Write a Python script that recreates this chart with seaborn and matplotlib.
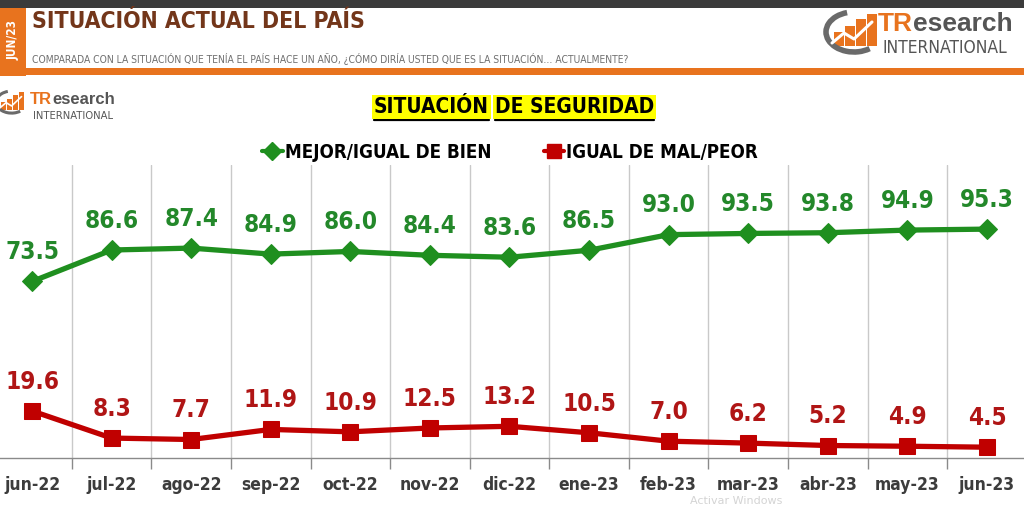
import matplotlib
matplotlib.use("Agg")
import matplotlib.pyplot as plt
import matplotlib.patches as mpatches
from matplotlib.lines import Line2D
from matplotlib import font_manager
import seaborn as sns
import pandas as pd

# Data
months = ['jun-22', 'jul-22', 'ago-22', 'sep-22', 'oct-22', 'nov-22', 'dic-22',
          'ene-23', 'feb-23', 'mar-23', 'abr-23', 'may-23', 'jun-23']
mejor = [73.5, 86.6, 87.4, 84.9, 86.0, 84.4, 83.6, 86.5, 93.0, 93.5, 93.8, 94.9, 95.3]
peor = [19.6, 8.3, 7.7, 11.9, 10.9, 12.5, 13.2, 10.5, 7.0, 6.2, 5.2, 4.9, 4.5]
series_names = ['MEJOR/IGUAL DE BIEN', 'IGUAL DE MAL/PEOR']

title = 'SITUACIÓN ACTUAL DEL PAÍS'
subtitle = ('COMPARADA CON LA SITUACIÓN QUE TENÍA EL PAÍS HACE UN AÑO, '
            '¿CÓMO DIRÍA USTED QUE ES LA SITUACIÓN… ACTUALMENTE?')
chart_title = ['SITUACIÓN', 'DE SEGURIDAD']

GREEN = '#1f8f1f'
GREEN_TXT = '#23882a'
RED = '#c00000'
RED_TXT = '#b01515'
ORANGE = '#e8731e'
BROWN = '#73361a'
GRAY_TXT = '#3c3c3c'

sns.set_theme(style='white')
installed = {f.name for f in font_manager.fontManager.ttflist}
if 'Liberation Sans Narrow' in installed:
    NARROW = dict(family=['Liberation Sans Narrow', 'DejaVu Sans'])
else:
    NARROW = dict(family=['DejaVu Sans'], stretch='condensed')
plt.rcParams['font.family'] = NARROW['family']

W, H = 1024, 507


def fx(px):
    return px / W


def fy(py):
    return 1 - py / H


fig = plt.figure(figsize=(10.24, 5.07), dpi=100)
fig.patch.set_facecolor('white')


def rect(x, y, w, h, color):
    # x, y = top-left corner in pixels
    fig.add_artist(mpatches.Rectangle((fx(x), fy(y + h)), w / W, h / H,
                                      transform=fig.transFigure, color=color, lw=0))


# ---- header ----
rect(0, 0, W, 8, '#3b3b3b')
rect(0, 8, 26, 68, ORANGE)
rect(26, 68, W, 7, ORANGE)
fig.text(fx(13), fy(40), 'JUN/23', rotation=90, color='white', ha='center', va='center',
         fontsize=8.5, fontweight='bold', **NARROW)
fig.text(fx(32), fy(21), title, color=BROWN, ha='left', va='center',
         fontsize=16.5, fontweight='bold', **NARROW)
fig.text(fx(32), fy(59), subtitle, color='#707070', ha='left', va='center',
         fontsize=7.4, **NARROW)


def draw_icon(x0, y0, s):
    # orange rising bars, white zigzag and a grey crescent
    for bx, top in [(12, 22), (23, 16), (34, 9), (45, 4)]:
        rect(x0 + bx * s, y0 + top * s, 10 * s, (36 - top) * s, ORANGE)
    zx = [10, 22, 32, 50]
    zy = [33, 23, 29, 12]
    fig.add_artist(Line2D([fx(x0 + a * s) for a in zx], [fy(y0 + b * s) for b in zy],
                          transform=fig.transFigure, color='white', lw=2.2 * s))
    fig.add_artist(mpatches.Arc((fx(x0 + 32 * s), fy(y0 + 22 * s)), 56 * s / W, 40 * s / H,
                                theta1=100, theta2=295, transform=fig.transFigure,
                                color='#6a6a6a', lw=4 * s))


def draw_logo_text(split_x, y_top, x_int, y_int, big, small):
    fig.text(fx(split_x), fy(y_top), 'TR', color=ORANGE, ha='right', va='center',
             fontsize=big, fontweight='bold', family=['Liberation Sans', 'DejaVu Sans'])
    fig.text(fx(split_x), fy(y_top), 'esearch', color='#555555', ha='left', va='center',
             fontsize=big, fontweight='bold', family=['Liberation Sans', 'DejaVu Sans'])
    fig.text(fx(x_int), fy(y_int), 'INTERNATIONAL', color='#555555', ha='left',
             va='center', fontsize=small, **NARROW)


draw_icon(822, 10, 1.0)
draw_logo_text(913, 24, 882, 48, 19, 12.5)
draw_icon(-6, 90, 0.55)
draw_logo_text(52, 100, 33, 116, 12, 8)

# ---- chart title ----
ty = fy(107)
t1 = fig.text(fx(489), ty, chart_title[0], ha='right', va='center', fontsize=15,
              fontweight='bold', color='black',
              bbox=dict(boxstyle='square,pad=0.1', fc='#ffff00', ec='none'), **NARROW)
t2 = fig.text(fx(495), ty, chart_title[1], ha='left', va='center', fontsize=15,
              fontweight='bold', color='black',
              bbox=dict(boxstyle='square,pad=0.1', fc='#ffff00', ec='none'), **NARROW)
fig.canvas.draw()
renderer = fig.canvas.get_renderer()
for t in (t1, t2):
    bb = t.get_window_extent(renderer).transformed(fig.transFigure.inverted())
    fig.add_artist(Line2D([bb.x0, bb.x1], [bb.y0 - 0.005, bb.y0 - 0.005],
                          transform=fig.transFigure, color='black', lw=1.6))

# ---- plot ----
ax = fig.add_axes([0, fy(458), 1, (458 - 165) / H])
df = pd.DataFrame({
    'idx': list(range(len(months))) * 2,
    'value': mejor + peor,
    'serie': [series_names[0]] * len(months) + [series_names[1]] * len(months),
})
styles = {series_names[0]: (GREEN, 'D', 10.5), series_names[1]: (RED, 's', 11.5)}
for name, (col, mk, ms) in styles.items():
    sub = df[df['serie'] == name]
    sns.lineplot(data=sub, x='idx', y='value', ax=ax, color=col, marker=mk,
                 markersize=ms, markeredgecolor=col, linewidth=3.8, legend=False)

for i in range(len(months)):
    ax.annotate(f'{mejor[i]:.1f}', (i, mejor[i]), xytext=(0, 21), textcoords='offset points',
                ha='center', va='center', fontsize=17.5, fontweight='bold', color=GREEN_TXT,
                **NARROW)
    ax.annotate(f'{peor[i]:.1f}', (i, peor[i]), xytext=(0, 21), textcoords='offset points',
                ha='center', va='center', fontsize=17.5, fontweight='bold', color=RED_TXT,
                **NARROW)

ax.set_xlim(-32 / 79.58, 12 + 37 / 79.58)
ax.set_ylim(0, 122)
ax.set_xlabel('')
ax.set_ylabel('')
ax.set_yticks([])
ax.set_xticks([i + 0.5 for i in range(len(months) - 1)])
ax.set_xticklabels([])
ax.set_xticks(range(len(months)), minor=True)
ax.set_xticklabels(months, minor=True, fontsize=12.5, fontweight='bold', color=GRAY_TXT,
                   **NARROW)
ax.tick_params(axis='x', which='major', length=8, width=1, color='#8a8a8a', direction='out',
               bottom=True)
ax.tick_params(axis='x', which='minor', length=0, pad=13)
ax.grid(axis='x', which='major', color='#c9c9c9', linewidth=1)
ax.grid(axis='y', visible=False)
for s in ['top', 'left', 'right']:
    ax.spines[s].set_visible(False)
ax.spines['bottom'].set_color('#8a8a8a')
ax.spines['bottom'].set_linewidth(1)
ax.set_facecolor('none')

# ---- legend ----
handles = [Line2D([0], [0], color=GREEN, marker='D', markersize=9, lw=3),
           Line2D([0], [0], color=RED, marker='s', markersize=10, lw=3)]
leg = fig.legend(handles, series_names, loc='center', bbox_to_anchor=(fx(510), fy(152)),
                 ncol=2, frameon=False, handlelength=1.1, handletextpad=0.1,
                 columnspacing=2.8, prop=dict(size=13.5, weight='bold', **NARROW))
for txt in leg.get_texts():
    txt.set_color('black')

# screenshot watermark near the bottom edge, as in the reference
fig.text(fx(690), fy(506), 'Activar Windows', color='#d4d4d4', ha='left', va='bottom',
         fontsize=8)

fig.savefig('out.png', dpi=100, facecolor='white')
